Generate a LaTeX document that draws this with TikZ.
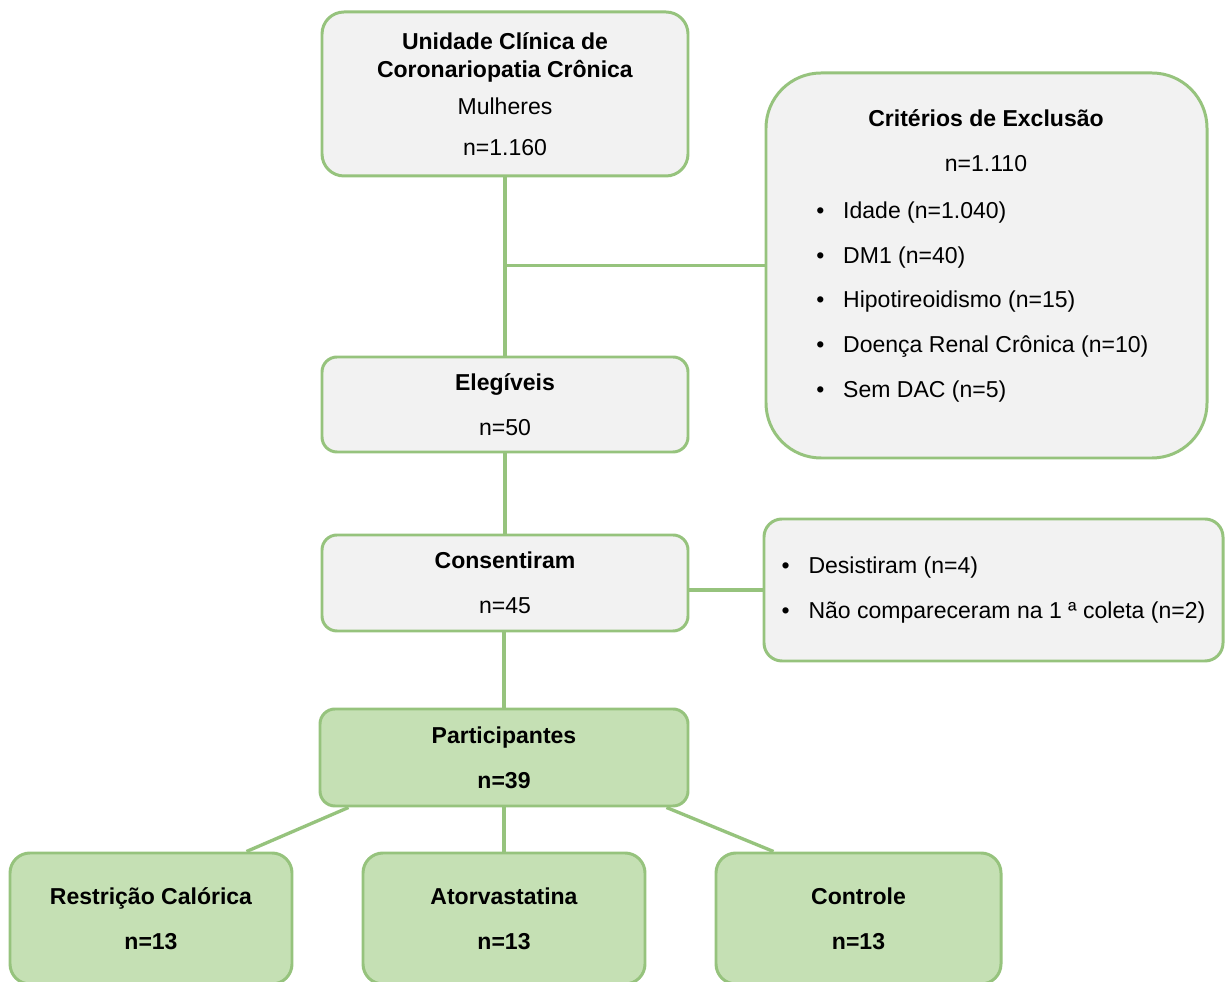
\documentclass[tikz,border=0pt]{standalone}
\usepackage{fontspec}
\setmainfont{Liberation Sans}
\usetikzlibrary{calc}
\definecolor{boxline}{RGB}{150,195,125}
\definecolor{boxgrey}{RGB}{242,242,242}
\definecolor{boxgreen}{RGB}{197,224,180}
\newcommand{\px}{0.02cm}
\newcommand{\blt}{\makebox[15.3pt][l]{\textbullet}}
\tikzset{
  box/.style={draw=boxline, line width=1.7pt, fill=boxgrey, rounded corners=0.3cm,
    inner sep=0pt, align=center, font=\fontsize{13.1}{25.5}\selectfont},
  greenbox/.style={box, fill=boxgreen, font=\bfseries\fontsize{13.1}{25.5}\selectfont},
  link/.style={draw=boxline, line width=1.9pt}}

\begin{document}
\begin{tikzpicture}[x=0.02cm, y=-0.02cm]
  \useasboundingbox (0,0) rectangle (1225,982);
  % caixas principais
  \node[box, minimum width=366*\px, minimum height=164*\px, rounded corners=0.44cm] (top) at (505,94)
    {\textbf{Unidade Clínica de}\\[-9.6pt]\textbf{Coronariopatia Crônica}\\[-4.5pt]Mulheres\\[-2.3pt]n=1.160};
  \node[box, minimum width=441*\px, minimum height=385*\px, rounded corners=1.1cm] (excl) at (986.5,265.5) {};
  \node[inner sep=0pt, align=center, font=\fontsize{13.1}{25.5}\selectfont] (exclT) at (986,140.5)
    {\textbf{Critérios de Exclusão}\\n=1.110};
  \node[inner sep=0pt, align=left, anchor=west, font=\fontsize{13.1}{25.5}\selectfont] (exclL) at (816,302)
    {\blt Idade (n=1.040)\\ \blt DM1 (n=40)\\ \blt Hipotireoidismo (n=15)\\
     \blt Doença Renal Crônica (n=10)\\ \blt Sem DAC (n=5)};
  \node[box, minimum width=366*\px, minimum height=95*\px] (eleg) at (505,404.5)
    {\textbf{Elegíveis}\\n=50};
  \node[box, minimum width=366*\px, minimum height=96*\px] (cons) at (505,583)
    {\textbf{Consentiram}\\n=45};
  \node[box, align=left, minimum width=459*\px, minimum height=142*\px, rounded corners=0.36cm] (exits) at (993.5,590)
    {\blt Desistiram (n=4)\\ \blt Não compareceram na 1 ª coleta (n=2)};
  \node[greenbox, minimum width=368*\px, minimum height=97*\px] (part) at (504,757.5)
    {Participantes\\n=39};
  % grupos
  \node[greenbox, minimum width=282*\px, minimum height=131*\px, rounded corners=0.4cm] (restr) at (151,918.5)
    {Restrição Calórica\\n=13};
  \node[greenbox, minimum width=282*\px, minimum height=131*\px, rounded corners=0.4cm] (ator) at (504,918.5)
    {Atorvastatina\\n=13};
  \node[greenbox, minimum width=285*\px, minimum height=131*\px, rounded corners=0.4cm] (ctrl) at (858.5,918.5)
    {Controle\\n=13};
  % ligacoes
  \coordinate (jn) at (top.south |- excl.west);
  \draw[link] (top) -- (eleg);
  \draw[link] (jn) -- (excl.west);
  \draw[link] (eleg) -- (cons);
  \draw[link] (cons.east |- exits.west) -- (exits.west);
  \draw[link] (cons.south -| part.north) -- (part.north);
  \draw[link] ($(part.south west)+(30,0)$) -- ($(restr.north east)+(-47,0)$);
  \draw[link] (part) -- (ator);
  \draw[link] ($(part.south east)+(-23,0)$) -- ($(ctrl.north west)+(59,0)$);
\end{tikzpicture}
\end{document}
